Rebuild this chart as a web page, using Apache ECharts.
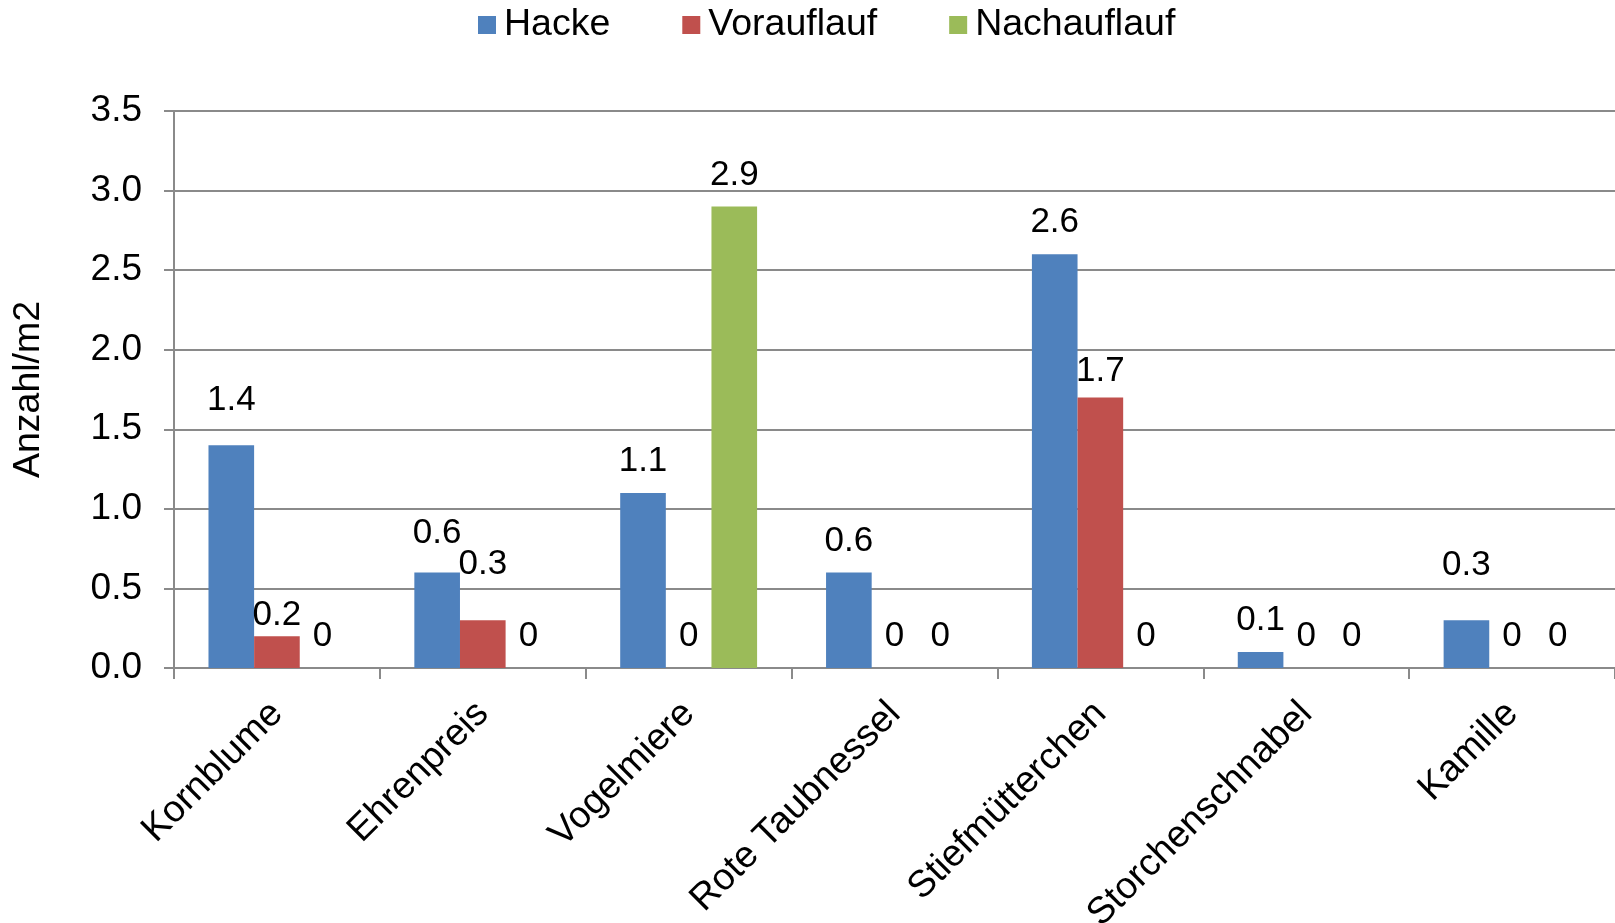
<!DOCTYPE html>
<html>
<head>
<meta charset="utf-8">
<script src="https://cdn.jsdelivr.net/npm/echarts@6/dist/echarts.min.js"></script>
<style>
  html, body { margin: 0; padding: 0; background: #ffffff; }
  #chart { width: 1615px; height: 923px; }
</style>
</head>
<body>
<div id="chart"></div>
<script>
// Unkrautbesatz je Art und Behandlung (Anzahl/m2)
const categories = ['Kornblume', 'Ehrenpreis', 'Vogelmiere', 'Rote Taubnessel', 'Stiefmütterchen', 'Storchenschnabel', 'Kamille'];
const seriesNames = ['Hacke', 'Vorauflauf', 'Nachauflauf'];
const hacke = [1.4, 0.6, 1.1, 0.6, 2.6, 0.1, 0.3];
const vorauflauf = [0.2, 0.3, 0, 0, 1.7, 0, 0];
const nachauflauf = [0, 0, 2.9, 0, 0, 0, 0];
const yTicks = { min: 0, max: 3.5, interval: 0.5 };

const FONT = "'Liberation Sans', Arial, sans-serif";
const colors = ['#4F81BD', '#C0504D', '#9BBB59'];
const gridColor = '#8A8A8A';
const LABEL_DISTANCE = 14;

// a few value labels sit a little higher or lower than the rest (extra lift in px)
const labelLift = {
  'Hacke': { 0: 13, 1: 8, 6: 23 },
  'Vorauflauf': { 0: -11, 1: 24, 4: -5 }
};

function buildSeries(name, values, color) {
  const lifts = labelLift[name] || {};
  return {
    name: name,
    type: 'bar',
    barGap: '0%',
    barCategoryGap: '33.5%',
    itemStyle: { color: color },
    label: {
      show: true,
      position: 'top',
      distance: LABEL_DISTANCE,
      color: '#000',
      fontFamily: FONT,
      fontSize: 35
    },
    data: values.map((v, i) => {
      const item = { value: v };
      if (lifts[i] !== undefined) {
        item.label = { distance: LABEL_DISTANCE + lifts[i] };
      }
      return item;
    })
  };
}

const chart = echarts.init(document.getElementById('chart'), null, { renderer: 'canvas' });
chart.setOption({
  animation: false,
  backgroundColor: '#ffffff',
  textStyle: { fontFamily: FONT },
  color: colors,
  legend: {
    data: seriesNames,
    left: 478,
    top: 6,
    padding: 0,
    icon: 'rect',
    itemWidth: 18,
    itemHeight: 18,
    itemGap: 72,
    textStyle: { fontFamily: FONT, fontSize: 37.5, color: '#000', padding: [0, 0, 0, 3] }
  },
  grid: {
    left: 174,
    right: 0,
    top: 111,
    bottom: 255,
    containLabel: false,
    outerBoundsMode: 'none'
  },
  xAxis: {
    type: 'category',
    data: categories,
    boundaryGap: true,
    axisLine: { show: true, lineStyle: { color: gridColor, width: 2 } },
    axisTick: { show: true, length: 11, interval: 0, lineStyle: { color: gridColor, width: 2 } },
    axisLabel: {
      interval: 0,
      rotate: 45,
      margin: 40,
      color: '#000',
      fontFamily: FONT,
      fontSize: 37.5
    },
    splitLine: { show: false }
  },
  yAxis: {
    type: 'value',
    min: yTicks.min,
    max: yTicks.max,
    interval: yTicks.interval,
    name: 'Anzahl/m2',
    nameLocation: 'middle',
    nameGap: 126,
    nameTextStyle: { color: '#000', fontFamily: FONT, fontSize: 37.5 },
    axisLine: { show: true, lineStyle: { color: gridColor, width: 2 } },
    axisTick: { show: true, length: 10, lineStyle: { color: gridColor, width: 2 } },
    axisLabel: {
      margin: 32,
      color: '#000',
      fontFamily: FONT,
      fontSize: 37,
      formatter: v => v.toFixed(1)
    },
    splitLine: { show: true, lineStyle: { color: gridColor, width: 2 } }
  },
  series: [
    buildSeries('Hacke', hacke, colors[0]),
    buildSeries('Vorauflauf', vorauflauf, colors[1]),
    buildSeries('Nachauflauf', nachauflauf, colors[2])
  ]
});
</script>
</body>
</html>
